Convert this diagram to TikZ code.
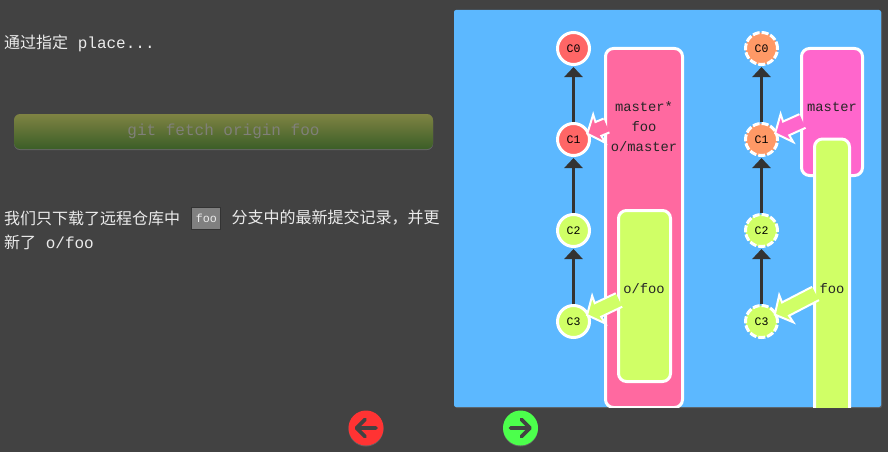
\documentclass[tikz,border=0pt]{standalone}
\usepackage{fontspec}
\setmonofont{Liberation Mono}
\newfontfamily\cjk{Noto Sans CJK SC}
\usetikzlibrary{%
  arrows.meta,%
  calc,%
  positioning,%
  shadows%
}
\definecolor{pagegray}{HTML}{424242}
\definecolor{panelblue}{HTML}{5CB8FF}
\definecolor{branchpink}{HTML}{FF69A0}
\definecolor{branchmagenta}{HTML}{FF66CC}
\definecolor{limegreen}{HTML}{D0FF66}
\definecolor{commitred}{HTML}{FF6666}
\definecolor{commitorange}{HTML}{FF9966}
\definecolor{edgegray}{HTML}{333333}
\definecolor{cmdtop}{HTML}{7F8343}
\definecolor{cmdbottom}{HTML}{3B5E27}
\newcommand\branchlink[3]{%
    \coordinate (tip) at ($(#3)!15pt!(#2)$);
    \draw[branchedge,fill=#1]
        ($(#2)!7.5pt!90:(tip)$)
        -- ($(tip)!14.2pt!-32:(#2)$)
        -- ($(tip)!20pt!-50:(#2)$)
        -- (tip)
        -- ($(tip)!20pt!50:(#2)$)
        -- ($(tip)!14.2pt!32:(#2)$)
        -- ($(#2)!7.5pt!-90:(tip)$);
}
\begin{document}
\begin{tikzpicture}
    [   x=1pt
    ,   y=-1pt
    ,   commit/.style=
            {   circle
            ,   minimum size=32pt
            ,   inner sep=0pt
            ,   line width=3pt
            ,   draw=white
            ,   text=black
            ,   font=\ttfamily\fontsize{11.5}{13}\selectfont
            }
    ,   ghost/.style=
            {   commit
            ,   dash pattern=on 7pt off 2pt
            }
    ,   branchbox/.style=
            {   rectangle
            ,   rounded corners=8pt
            ,   line width=3pt
            ,   draw=white
            ,   inner sep=0pt
            }
    ,   branchlabel/.style=
            {   inner sep=0pt
            ,   align=center
            ,   text=black!85
            ,   font=\ttfamily\fontsize{13.8}{20}\selectfont
            }
    ,   commitlink/.style=
            {   -{Triangle[length=10pt,width=18pt]}
            ,   line width=2.5pt
            ,   draw=edgegray
            ,   shorten >=1pt
            }
    ,   branchedge/.style=
            {   draw=white
            ,   line width=2pt
            ,   miter limit=10
            }
    ,   prose/.style=
            {   inner sep=0pt
            ,   anchor=west
            ,   text=white!92!black
            ,   font=\ttfamily\fontsize{16}{20}\selectfont
            }
    ,   navbutton/.style=
            {   circle
            ,   minimum size=35pt
            ,   inner sep=0pt
            ,   drop shadow={shadow xshift=0pt,shadow yshift=-1pt,opacity=.5}
            }
    ,   navglyph/.style=
            {   draw=pagegray
            ,   line width=3.8pt
            ,   line cap=round
            ,   line join=round
            }
    ]

    \useasboundingbox[fill=pagegray] (0,0) rectangle (888,452);

    % left column
    \node[prose](intro) at (4,43) {{\cjk 通过指定} place...};
    \node[rectangle,rounded corners=6pt,minimum width=419pt,minimum height=35pt,inner sep=0pt
        ,top color=cmdtop,bottom color=cmdbottom
        ,text=gray!90!cmdtop,font=\ttfamily\fontsize{16}{20}\selectfont
        ,drop shadow={shadow xshift=0pt,shadow yshift=-1pt,opacity=.6}](command)
        at (223.5,131.5) {git fetch origin foo};
    \node[prose](textA) at (4,218) {\cjk 我们只下载了远程仓库中};
    \node[rectangle,minimum width=29pt,minimum height=22pt,inner sep=0pt,fill=gray,draw=edgegray
        ,line width=1pt,text=white!92!black,font=\ttfamily\fontsize{11.7}{14}\selectfont]
        (codefoo)[right=11pt of textA]{foo};
    \node[prose](textB)[right=10pt of codefoo]{\cjk 分支中的最新提交记录，并更};
    \node[prose](textC) at (4,242) {{\cjk 新了} o/foo};

    % panel
    \node[rectangle,rounded corners=2pt,minimum width=427pt,minimum height=397pt,inner sep=0pt
        ,fill=panelblue,drop shadow={shadow xshift=1pt,shadow yshift=-1pt,opacity=.4}](panel)
        at (667.5,208.5) {};

    \begin{scope}
        \clip (panel.south west) rectangle (panel.north east);

        % left tree
        \node[branchbox,fill=branchpink,minimum width=77pt,minimum height=359pt](master)
            at (644,228) {};
        \node[branchbox,fill=limegreen,minimum width=52pt,minimum height=171pt](originfoo)
            at (644.5,296) {};
        \node[commit,fill=commitred](C0) at (573.5,48.5) {C0};
        \node[commit,fill=commitred](C1)[below=56pt of C0]{C1};
        \node[commit,fill=limegreen](C2)[below=56pt of C1]{C2};
        \node[commit,fill=limegreen](C3)[below=56pt of C2]{C3};
        \draw[commitlink](C1)--(C0);
        \draw[commitlink](C2)--(C1);
        \draw[commitlink](C3)--(C2);
        \coordinate (mastertail) at (606.5,125.5);
        \coordinate (originfootail) at (619,300);
        \branchlink{branchpink}{mastertail}{C1}
        \branchlink{limegreen}{originfootail}{C3}
        \node[branchlabel](masterlabel) at (644,127) {master*\\foo\\o/master};
        \node[branchlabel](originfoolabel) at (644,289) {o/foo};

        % right tree
        \node[branchbox,fill=branchmagenta,minimum width=61pt,minimum height=127pt](remotemaster)
            at (832,112) {};
        \node[branchbox,fill=limegreen,minimum width=35pt,minimum height=290pt](remotefoo)
            at (832,284) {};
        \node[ghost,fill=commitorange](R0) at (761.5,48.5) {C0};
        \node[ghost,fill=commitorange](R1)[below=56pt of R0]{C1};
        \node[ghost,fill=limegreen](R2)[below=56pt of R1]{C2};
        \node[ghost,fill=limegreen](R3)[below=56pt of R2]{C3};
        \draw[commitlink](R1)--(R0);
        \draw[commitlink](R2)--(R1);
        \draw[commitlink](R3)--(R2);
        \coordinate (remotemastertail) at (802.5,121);
        \coordinate (remotefootail) at (815.5,293.5);
        \branchlink{branchmagenta}{remotemastertail}{R1}
        \branchlink{limegreen}{remotefootail}{R3}
        \node[branchlabel](remotemasterlabel) at (832,107) {master};
        \node[branchlabel](remotefoolabel) at (832,289) {foo};
    \end{scope}

    % buttons
    \node[navbutton,fill=red!80!white](back) at (366,428) {};
    \node[navbutton,fill=green!70!white](next) at (520.5,428) {};
    \begin{scope}[shift={(back.center)}]
        \draw[navglyph] (10,0) -- (-9,0) (-1,-8.5) -- (-9.5,0) -- (-1,8.5);
    \end{scope}
    \begin{scope}[shift={(next.center)}]
        \draw[navglyph] (-10,0) -- (9,0) (1,-8.5) -- (9.5,0) -- (1,8.5);
    \end{scope}
\end{tikzpicture}
\end{document}
